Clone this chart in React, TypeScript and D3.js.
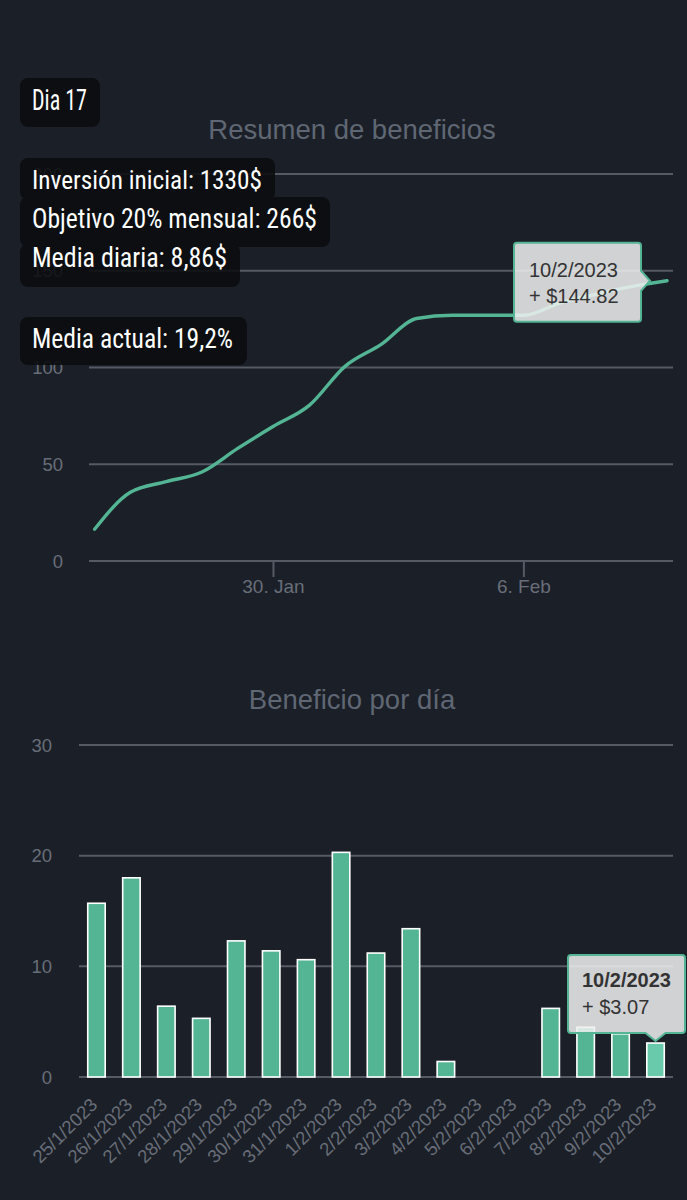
import React from 'react';
import * as d3 from 'd3';

const W = 687;
const H = 1200;

// ---------- data ----------
const dates = [
  '25/1/2023', '26/1/2023', '27/1/2023', '28/1/2023', '29/1/2023', '30/1/2023',
  '31/1/2023', '1/2/2023', '2/2/2023', '3/2/2023', '4/2/2023', '5/2/2023',
  '6/2/2023', '7/2/2023', '8/2/2023', '9/2/2023', '10/2/2023',
];
const dailyProfit = [15.7, 18.0, 6.4, 5.3, 12.3, 11.4, 10.6, 20.3, 11.2, 13.4, 1.4, 0, 0, 6.2, 4.5, 3.9, 3.07];
const cumulativeProfit = [16.4, 35.5, 41.0, 46.0, 58.2, 69.6, 80.4, 100.6, 111.8, 125.3, 127.0, 127.0, 127.0, 133.3, 137.8, 141.8, 144.82];

const summaryTitle = 'Resumen de beneficios';
const dailyTitle = 'Beneficio por día';
const summaryYTicks = [0, 50, 100, 150, 200];
const summaryXTicks = ['30/1/2023', '6/2/2023'];
const summaryXTickLabels = ['30. Jan', '6. Feb'];
const dailyYTicks = [0, 10, 20, 30];

const topTooltip = ['10/2/2023', '+ $144.82'];
const bottomTooltip = ['10/2/2023', '+ $3.07'];

const noteDay = 'Dia 17';
const noteLines = ['Inversión inicial: 1330$', 'Objetivo 20% mensual: 266$', 'Media diaria: 8,86$'];
const noteAverage = 'Media actual: 19,2%';

// ---------- style ----------
const BG = '#1b1f27';
const GRID = '#555a64';
const LABEL = '#686e79';
const TITLE = '#5f6774';
const TEAL = '#54b594';
const TEAL_HOVER = '#68caab';
const FONT = '"Liberation Sans", Arial, Helvetica, sans-serif';
const NOTE_FONT = '"Roboto Condensed", "Liberation Sans Narrow", "DejaVu Sans Condensed", Roboto, sans-serif';
const NOTE_BG = '#0b0c0f';

const parseDate = (s: string) => {
  const [d, m, y] = s.split('/').map(Number);
  return new Date(y, m - 1, d);
};

export default function App() {
  // ---- top chart scales ----
  const parsed = dates.map(parseDate);
  const xT = d3.scaleTime().domain([parsed[0], parsed[parsed.length - 1]]).range([94.6, 667]);
  const yT = d3.scaleLinear().domain([0, 200]).range([561, 174]);
  const gridX0T = 89;
  const gridX1T = 673;

  const line = d3
    .line<number>()
    .x((_, i) => xT(parsed[i]))
    .y((v) => yT(v))
    .curve(d3.curveMonotoneX);
  const linePath = line(cumulativeProfit) || '';

  // ---- bottom chart scales ----
  const xB = d3.scaleBand<string>().domain(dates).range([79, 673]).paddingInner(0.5).paddingOuter(0.25);
  const yB = d3.scaleLinear().domain([0, 30]).range([1077, 745]);
  const bw = xB.bandwidth();

  // ---- tooltips ----
  const lastI = dates.length - 1;
  const tpx = xT(parsed[lastI]);
  const tpy = yT(cumulativeProfit[lastI]);
  const tipX = tpx - 17; // arrow tip
  const tR = tipX - 9; // box right edge
  const tL = tR - 127;
  const tTop = tpy - 38;
  const tBot = tpy + 41;
  const r = 3;
  const topTipPath = [
    `M ${tL + r} ${tTop}`,
    `L ${tR - r} ${tTop}`,
    `Q ${tR} ${tTop} ${tR} ${tTop + r}`,
    `L ${tR} ${tpy - 10}`,
    `L ${tipX} ${tpy}`,
    `L ${tR} ${tpy + 10}`,
    `L ${tR} ${tBot - r}`,
    `Q ${tR} ${tBot} ${tR - r} ${tBot}`,
    `L ${tL + r} ${tBot}`,
    `Q ${tL} ${tBot} ${tL} ${tBot - r}`,
    `L ${tL} ${tTop + r}`,
    `Q ${tL} ${tTop} ${tL + r} ${tTop}`,
    'Z',
  ].join(' ');

  const bcx = (xB(dates[lastI]) || 0) + bw / 2;
  const bcy = yB(dailyProfit[lastI]);
  const bL = 568;
  const bR = 685;
  const bTop = 955;
  const bBot = bcy - 10;
  const bottomTipPath = [
    `M ${bL + r} ${bTop}`,
    `L ${bR - r} ${bTop}`,
    `Q ${bR} ${bTop} ${bR} ${bTop + r}`,
    `L ${bR} ${bBot - r}`,
    `Q ${bR} ${bBot} ${bR - r} ${bBot}`,
    `L ${bcx + 10} ${bBot}`,
    `L ${bcx} ${bcy - 2}`,
    `L ${bcx - 10} ${bBot}`,
    `L ${bL + r} ${bBot}`,
    `Q ${bL} ${bBot} ${bL} ${bBot - r}`,
    `L ${bL} ${bTop + r}`,
    `Q ${bL} ${bTop} ${bL + r} ${bTop}`,
    'Z',
  ].join(' ');

  // ---- note overlay geometry ----
  const noteRects = [
    { x: 20, y: 158, w: 255, h: 42 },
    { x: 20, y: 197, w: 310, h: 50 },
    { x: 20, y: 244, w: 220, h: 43 },
  ];
  const noteBaselines = [189, 228, 267];
  const noteWidths = [230, 285, 195];

  return (
    <svg
      width={W}
      height={H}
      viewBox={`0 0 ${W} ${H}`}
      style={{ position: 'absolute', left: 0, top: 0, display: 'block' }}
    >
      <rect x={0} y={0} width={W} height={H} fill={BG} />

      {/* ================= top chart ================= */}
      <text x={352} y={139} textAnchor="middle" fill={TITLE} fontFamily={FONT} fontSize={27.5}>
        {summaryTitle}
      </text>
      {summaryYTicks.map((t) => (
        <g key={`ty${t}`}>
          <line x1={gridX0T} x2={gridX1T} y1={yT(t)} y2={yT(t)} stroke={GRID} strokeWidth={2} />
          <text x={63} y={yT(t) + 6.5} textAnchor="end" fill={LABEL} fontFamily={FONT} fontSize={18.5}>
            {t}
          </text>
        </g>
      ))}
      {summaryXTicks.map((d, i) => {
        const x = xT(parseDate(d));
        return (
          <g key={`tx${d}`}>
            <line x1={x} x2={x} y1={yT(0)} y2={yT(0) + 16} stroke={GRID} strokeWidth={2} />
            <text x={x} y={593} textAnchor="middle" fill={LABEL} fontFamily={FONT} fontSize={19}>
              {summaryXTickLabels[i]}
            </text>
          </g>
        );
      })}
      <path d={linePath} fill="none" stroke={TEAL} strokeWidth={3.4} strokeLinecap="round" strokeLinejoin="round" />

      {/* top tooltip */}
      <path d={topTipPath} fill="rgba(240,240,240,0.86)" stroke={TEAL} strokeWidth={2} />
      <text x={tL + 15} y={tpy - 4} fill="#333333" fontFamily={FONT} fontSize={20}>
        {topTooltip[0]}
      </text>
      <text x={tL + 15} y={tpy + 22} fill="#333333" fontFamily={FONT} fontSize={20}>
        {topTooltip[1]}
      </text>

      {/* ================= bottom chart ================= */}
      <text x={352} y={709} textAnchor="middle" fill={TITLE} fontFamily={FONT} fontSize={27.5}>
        {dailyTitle}
      </text>
      {dailyYTicks.map((t) => (
        <g key={`by${t}`}>
          <line x1={79} x2={673} y1={yB(t)} y2={yB(t)} stroke={GRID} strokeWidth={2} />
          <text x={52} y={yB(t) + 6.5} textAnchor="end" fill={LABEL} fontFamily={FONT} fontSize={18.5}>
            {t}
          </text>
        </g>
      ))}
      {dailyProfit.map((v, i) => {
        if (v <= 0) return null;
        const x = xB(dates[i]) || 0;
        const y = yB(v);
        return (
          <rect
            key={`bar${i}`}
            x={x}
            y={y}
            width={bw}
            height={yB(0) - y}
            fill={i === lastI ? TEAL_HOVER : TEAL}
            stroke="#ffffff"
            strokeWidth={1.6}
          />
        );
      })}
      {dates.map((d) => {
        const cx = (xB(d) || 0) + bw / 2;
        return (
          <text
            key={`bl${d}`}
            transform={`translate(${cx + 2},${1106}) rotate(-45)`}
            textAnchor="end"
            fill={LABEL}
            fontFamily={FONT}
            fontSize={18.5}
          >
            {d}
          </text>
        );
      })}

      {/* bottom tooltip */}
      <path d={bottomTipPath} fill="rgba(240,240,240,0.86)" stroke={TEAL} strokeWidth={2} />
      <text x={bL + 14} y={987} fill="#333333" fontFamily={FONT} fontSize={20} fontWeight="bold">
        {bottomTooltip[0]}
      </text>
      <text x={bL + 14} y={1014} fill="#333333" fontFamily={FONT} fontSize={20}>
        {bottomTooltip[1]}
      </text>

      {/* ================= note overlays ================= */}
      <g opacity={0.9}>
        <rect x={20} y={78} width={80} height={49} rx={8} fill={NOTE_BG} />
      </g>
      <text x={32} y={110} fill="#ffffff" fontFamily={NOTE_FONT} fontSize={29} textLength={55} lengthAdjust="spacingAndGlyphs">
        {noteDay}
      </text>

      <g opacity={0.88}>
        {noteRects.map((b, i) => (
          <rect key={`nr${i}`} x={b.x} y={b.y} width={b.w} height={b.h} rx={8} fill={NOTE_BG} />
        ))}
      </g>
      {noteLines.map((s, i) => (
        <text
          key={`nl${i}`}
          x={32}
          y={noteBaselines[i]}
          fill="#ffffff"
          fontFamily={NOTE_FONT}
          fontSize={i === 0 ? 26 : 27}
          textLength={noteWidths[i]}
          lengthAdjust="spacingAndGlyphs"
        >
          {s}
        </text>
      ))}

      <g opacity={0.9}>
        <rect x={20} y={317} width={227} height={48} rx={8} fill={NOTE_BG} />
      </g>
      <text x={32} y={348} fill="#ffffff" fontFamily={NOTE_FONT} fontSize={27.5} textLength={201} lengthAdjust="spacingAndGlyphs">
        {noteAverage}
      </text>
    </svg>
  );
}
